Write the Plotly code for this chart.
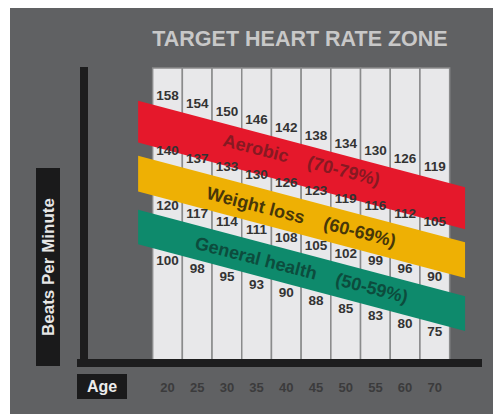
import plotly.graph_objects as go

# ---------------- data ----------------
ages = [20, 25, 30, 35, 40, 45, 50, 55, 60, 70]
pct_levels = [80, 70, 60, 50]          # % of max heart rate for each row of numbers
bpm_80 = [158, 154, 150, 146, 142, 138, 134, 130, 126, 119]
bpm_70 = [140, 137, 133, 130, 126, 123, 119, 116, 112, 105]
bpm_60 = [120, 117, 114, 111, 108, 105, 102, 99, 96, 90]
bpm_50 = [100, 98, 95, 93, 90, 88, 85, 83, 80, 75]
zone_names = ["Aerobic", "Weight loss", "General health"]
zone_ranges = ["70-79%", "60-69%", "50-59%"]
zone_hi = [79, 69, 59]
zone_lo = [70, 60, 50]

# ---------------- style / geometry ----------------
SW, SH = 501, 414                 # browser window
OFF = 8                           # page body margin
W, H = SW - OFF, SH - OFF         # figure size
BG = "#606163"
SHEAR = 1.43                      # visual downward slant per age column (in % units)
band_top_inset = [1.1, 1.1, 0.9]
band_bot_inset = [0.3, 1.4, 1.8]
band_text_shift = [0.9, 0.0, 0.0]
band_colors = ["#e5182b", "#eeb004", "#0e8a6c"]
band_text_colors = ["#7d1a22", "#352a0a", "#0c4638"]
band_x = [-0.99, 10.02]           # band ends, in column units


def PX(px):
    return (px - OFF) / W


def PY(py):
    return 1 - (py - OFF) / H


def Y(py):
    return 80 - (py - 97) / 5.5


X_RANGE = [(OFF - 167.5) / 29.7, (SW - 167.5) / 29.7]
Y_RANGE = [Y(SH), Y(OFF)]

idx = list(range(len(ages)))
fig = go.Figure()

# white columns
col_bottom, col_top = Y(360), Y(68)
fig.add_trace(go.Bar(
    x=idx, y=[col_top - col_bottom] * len(ages), base=col_bottom, width=1,
    marker=dict(color="#e8e8ea", line=dict(color="#8a8b8c", width=1.5)),
    hoverinfo="skip", showlegend=False))

# zone bands
for k in range(3):
    top = zone_hi[k] - band_top_inset[k]
    bot = zone_lo[k] + band_bot_inset[k]
    xs = [band_x[0], band_x[1], band_x[1], band_x[0], band_x[0]]
    ys = [top - SHEAR * band_x[0], top - SHEAR * band_x[1],
          bot - SHEAR * band_x[1], bot - SHEAR * band_x[0], top - SHEAR * band_x[0]]
    fig.add_trace(go.Scatter(x=xs, y=ys, mode="lines", fill="toself",
                             fillcolor=band_colors[k], line=dict(width=0),
                             hoverinfo="skip", showlegend=False))
    xm = 4.5
    ym = (top + bot) / 2 - SHEAR * xm + band_text_shift[k]
    fig.add_annotation(
        x=xm, y=ym, xref="x", yref="y", xanchor="center", yanchor="middle",
        text=zone_names[k] + "\u00a0\u00a0\u00a0\u00a0(" + zone_ranges[k] + ")",
        showarrow=False, textangle=14.5,
        font=dict(family="Liberation Sans, Arial", size=18, color=band_text_colors[k],
                  weight="bold"),
        opacity=0.9)

# numbers
for lvl, row in zip(pct_levels, [bpm_80, bpm_70, bpm_60, bpm_50]):
    fig.add_trace(go.Scatter(
        x=idx, y=[lvl - SHEAR * i for i in idx], mode="text",
        text=[str(v) for v in row], textposition="middle center",
        textfont=dict(family="Liberation Sans, Arial", size=13.5, color="#333333",
                      weight="bold"),
        hoverinfo="skip", showlegend=False))

shapes = [
    # white photo borders
    dict(type="rect", xref="paper", yref="paper", x0=0, x1=PX(10), y0=0, y1=1,
         fillcolor="white", line=dict(width=0), layer="above"),
    dict(type="rect", xref="paper", yref="paper", x0=PX(498), x1=1, y0=0, y1=1,
         fillcolor="white", line=dict(width=0), layer="above"),
    # axis lines
    dict(type="rect", xref="paper", yref="paper", x0=PX(80), x1=PX(88), y0=PY(367), y1=PY(67),
         fillcolor="#1d1d1e", line=dict(width=0), layer="above"),
    dict(type="rect", xref="paper", yref="paper", x0=PX(77), x1=PX(482), y0=PY(367), y1=PY(359),
         fillcolor="#1d1d1e", line=dict(width=0), layer="above"),
    # label boxes
    dict(type="rect", xref="paper", yref="paper", x0=PX(36), x1=PX(60), y0=PY(366), y1=PY(168),
         fillcolor="#1a1a1b", line=dict(width=0), layer="above"),
    dict(type="rect", xref="paper", yref="paper", x0=PX(77), x1=PX(127), y0=PY(399), y1=PY(374),
         fillcolor="#1a1a1b", line=dict(width=0), layer="above"),
]

fig.add_annotation(x=PX(48), y=PY(267), xref="paper", yref="paper",
                   xanchor="center", yanchor="middle",
                   text="Beats Per Minute", showarrow=False, textangle=-90,
                   font=dict(family="Liberation Sans, Arial", size=17, color="#e6e6e6",
                             weight="bold"))
fig.add_annotation(x=PX(102), y=PY(386.5), xref="paper", yref="paper",
                   xanchor="center", yanchor="middle",
                   text="Age", showarrow=False,
                   font=dict(family="Liberation Sans, Arial", size=16, color="#ececec",
                             weight="bold"))

fig.update_layout(
    width=W, height=H,
    margin=dict(l=0, r=0, t=0, b=0),
    paper_bgcolor=BG, plot_bgcolor=BG,
    shapes=shapes,
    title=dict(text="TARGET HEART RATE ZONE", x=PX(300), y=PY(38.5),
               xanchor="center", yanchor="middle",
               font=dict(family="Liberation Sans, Arial", size=21.5, color="#c8c8c8",
                         weight="bold")),
    xaxis=dict(range=X_RANGE, showgrid=False, zeroline=False, showline=False,
               tickvals=idx, ticktext=[str(a) for a in ages], ticks="",
               anchor="free", position=PY(378), automargin=False,
               tickfont=dict(family="Liberation Sans, Arial", size=13, color="#3b3b3c",
                             weight="bold")),
    yaxis=dict(range=Y_RANGE, showgrid=False, zeroline=False, showline=False,
               showticklabels=False, ticks="", automargin=False),
    showlegend=False,
)

fig.write_html("out.html")
